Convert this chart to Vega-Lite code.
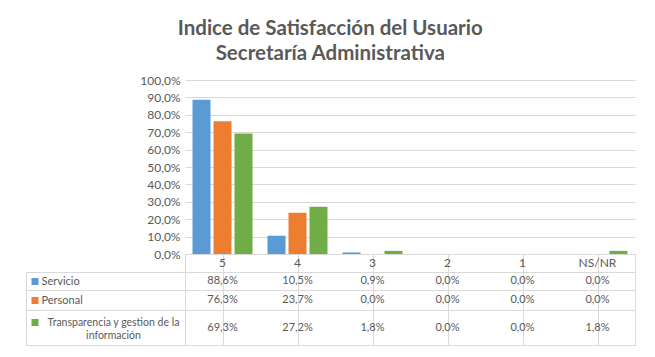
{
  "$schema": "https://vega.github.io/schema/vega-lite/v6.json",
  "padding": {"left": 25, "right": 21, "top": 18, "bottom": 8},
  "spacing": 0,
  "bounds": "flush",
  "config": {
    "locale": {"number": {"decimal": ",", "thousands": ".", "grouping": [3], "currency": ["", " €"]}},
    "font": "Lato",
    "concat": {"spacing": 0},
    "view": {"stroke": "#d9d9d9"},
    "axis": {"labelFont": "Lato", "labelFontSize": 11, "labelColor": "#595959", "domainColor": "#d9d9d9", "tickColor": "#d9d9d9", "gridColor": "#d9d9d9"},
    "text": {"font": "Lato", "fontSize": 11, "color": "#595959"}
  },
  "title": {
    "text": ["Indice de Satisfacción del Usuario", "Secretaría Administrativa"],
    "fontSize": 20.5, "fontWeight": "bold", "color": "#595959", "font": "Lato",
    "anchor": "middle", "lineHeight": 25, "offset": 10
  },
  "datasets": {
    "d": [
      {"cat": "5", "serie": "Servicio", "valor": 0.886},
      {"cat": "5", "serie": "Personal", "valor": 0.763},
      {"cat": "5", "serie": "Transparencia y gestion de la información", "valor": 0.693},
      {"cat": "4", "serie": "Servicio", "valor": 0.105},
      {"cat": "4", "serie": "Personal", "valor": 0.237},
      {"cat": "4", "serie": "Transparencia y gestion de la información", "valor": 0.272},
      {"cat": "3", "serie": "Servicio", "valor": 0.009},
      {"cat": "3", "serie": "Personal", "valor": 0.0},
      {"cat": "3", "serie": "Transparencia y gestion de la información", "valor": 0.018},
      {"cat": "2", "serie": "Servicio", "valor": 0.0},
      {"cat": "2", "serie": "Personal", "valor": 0.0},
      {"cat": "2", "serie": "Transparencia y gestion de la información", "valor": 0.0},
      {"cat": "1", "serie": "Servicio", "valor": 0.0},
      {"cat": "1", "serie": "Personal", "valor": 0.0},
      {"cat": "1", "serie": "Transparencia y gestion de la información", "valor": 0.0},
      {"cat": "NS/NR", "serie": "Servicio", "valor": 0.0},
      {"cat": "NS/NR", "serie": "Personal", "valor": 0.0},
      {"cat": "NS/NR", "serie": "Transparencia y gestion de la información", "valor": 0.018}
    ]
  },
  "vconcat": [
    {
      "width": 450, "height": 174,
      "view": {"stroke": null},
      "data": {"name": "d"},
      "mark": {"type": "bar"},
      "encoding": {
        "x": {"field": "cat", "type": "nominal", "sort": ["5", "4", "3", "2", "1", "NS/NR"],
              "scale": {"paddingInner": 0, "paddingOuter": 0},
              "axis": {"title": null, "labels": false, "ticks": false, "domain": true}},
        "xOffset": {"field": "serie", "type": "nominal", "sort": ["Servicio", "Personal", "Transparencia y gestion de la información"],
                    "scale": {"paddingInner": 0.143, "paddingOuter": 0.357}},
        "y": {"field": "valor", "type": "quantitative", "scale": {"domain": [0, 1]},
              "axis": {"title": null, "format": ".1%", "values": [0, 0.1, 0.2, 0.3, 0.4, 0.5, 0.6, 0.7, 0.8, 0.9, 1], "domain": false, "ticks": false, "labelPadding": 5, "labelFontSize": 12, "grid": true}},
        "color": {"field": "serie", "type": "nominal", "sort": ["Servicio", "Personal", "Transparencia y gestion de la información"],
                  "scale": {"range": ["#5B9BD5", "#ED7D31", "#70AD47"]}, "legend": null}
      }
    },
    {
      "width": 450, "height": 18,
      "data": {"name": "d"},
      "transform": [{"filter": "datum.serie == 'Servicio'"}],
      "mark": {"type": "text", "baseline": "middle", "fontSize": 12},
      "encoding": {
        "x": {"field": "cat", "type": "nominal", "sort": ["5", "4", "3", "2", "1", "NS/NR"], "scale": {"paddingInner": 0, "paddingOuter": 0},
              "axis": {"title": null, "labels": false, "ticks": false, "domain": false, "grid": true, "bandPosition": 0}},
        "text": {"field": "cat", "type": "nominal"}
      }
    },
    {
      "width": 450, "height": 18,
      "data": {"name": "d"},
      "transform": [{"filter": "datum.serie == 'Servicio'"}],
      "resolve": {"axis": {"y": "independent"}},
      "layer": [
        {
          "mark": {"type": "text", "baseline": "middle"},
          "encoding": {
            "x": {"field": "cat", "type": "nominal", "sort": ["5", "4", "3", "2", "1", "NS/NR"], "scale": {"paddingInner": 0, "paddingOuter": 0},
                  "axis": {"title": null, "labels": false, "ticks": false, "domain": false, "grid": true, "bandPosition": 0}},
            "y": {"field": "serie", "type": "nominal", "scale": {"paddingInner": 0, "paddingOuter": 0},
                  "axis": {"title": null, "orient": "left", "offset": 159, "domain": true, "tickBand": "extent", "tickSize": -159, "labelAlign": "left", "labelPadding": 144, "labelBaseline": "middle"}},
            "text": {"field": "valor", "type": "quantitative", "format": ".1%"}
          }
        },
        {
          "mark": {"type": "point", "opacity": 0},
          "encoding": {
            "y": {"field": "serie", "type": "nominal",
                  "axis": {"title": null, "orient": "left", "offset": 147, "domain": false, "labels": false, "ticks": true, "tickBand": "center", "tickSize": 7, "tickWidth": 7, "tickColor": "#5B9BD5"}}
          }
        }
      ]
    },
    {
      "width": 450, "height": 20,
      "data": {"name": "d"},
      "transform": [{"filter": "datum.serie == 'Personal'"}],
      "resolve": {"axis": {"y": "independent"}},
      "layer": [
        {
          "mark": {"type": "text", "baseline": "middle"},
          "encoding": {
            "x": {"field": "cat", "type": "nominal", "sort": ["5", "4", "3", "2", "1", "NS/NR"], "scale": {"paddingInner": 0, "paddingOuter": 0},
                  "axis": {"title": null, "labels": false, "ticks": false, "domain": false, "grid": true, "bandPosition": 0}},
            "y": {"field": "serie", "type": "nominal", "scale": {"paddingInner": 0, "paddingOuter": 0},
                  "axis": {"title": null, "orient": "left", "offset": 159, "domain": true, "tickBand": "extent", "tickSize": -159, "labelAlign": "left", "labelPadding": 144, "labelBaseline": "middle"}},
            "text": {"field": "valor", "type": "quantitative", "format": ".1%"}
          }
        },
        {
          "mark": {"type": "point", "opacity": 0},
          "encoding": {
            "y": {"field": "serie", "type": "nominal",
                  "axis": {"title": null, "orient": "left", "offset": 147, "domain": false, "labels": false, "ticks": true, "tickBand": "center", "tickSize": 7, "tickWidth": 7, "tickColor": "#ED7D31"}}
          }
        }
      ]
    },
    {
      "width": 450, "height": 35,
      "data": {"name": "d"},
      "transform": [{"filter": "datum.serie == 'Transparencia y gestion de la información'"}],
      "resolve": {"axis": {"y": "independent"}},
      "layer": [
        {
          "mark": {"type": "text", "baseline": "middle"},
          "encoding": {
            "x": {"field": "cat", "type": "nominal", "sort": ["5", "4", "3", "2", "1", "NS/NR"], "scale": {"paddingInner": 0, "paddingOuter": 0},
                  "axis": {"title": null, "labels": false, "ticks": false, "domain": false, "grid": true, "bandPosition": 0}},
            "y": {"field": "serie", "type": "nominal", "scale": {"paddingInner": 0, "paddingOuter": 0},
                  "axis": {"title": null, "orient": "left", "offset": 159, "domain": true, "tickBand": "extent", "tickSize": -159, "labelAlign": "center", "labelPadding": 72, "labelFontSize": 10.5, "labelBaseline": "middle", "labelLineHeight": 13, "labelOffset": -5,
                           "labelExpr": "datum.label ? ['Transparencia y gestion de la', 'información'] : ''"}},
            "text": {"field": "valor", "type": "quantitative", "format": ".1%"}
          }
        },
        {
          "mark": {"type": "point", "opacity": 0},
          "encoding": {
            "y": {"field": "serie", "type": "nominal",
                  "axis": {"title": null, "orient": "left", "offset": 147, "domain": false, "labels": false, "ticks": true, "tickBand": "center", "tickSize": 7, "tickWidth": 7, "tickOffset": -6, "tickColor": "#70AD47"}}
          }
        }
      ]
    }
  ]
}
